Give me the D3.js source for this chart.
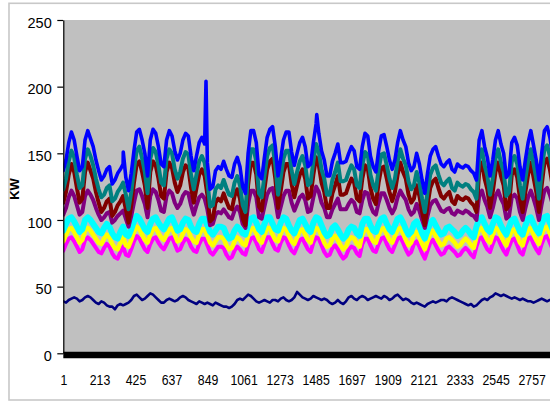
<!DOCTYPE html>
<html><head><meta charset="utf-8">
<script src="https://cdn.jsdelivr.net/npm/d3@7"></script>
<style>body{margin:0;background:#fff;overflow:hidden} text{font-family:"Liberation Sans",Arial,sans-serif}</style>
</head><body>
<svg id="c" width="550" height="401"></svg>
<script>
// x-axis tick labels (reading number) and y ticks (KW)
const xTickLabels = [1,213,425,637,849,1061,1273,1485,1697,1909,2121,2333,2545,2757];
const yTicks = [0,50,100,150,200,250];
const sampleStep = 16; // one plotted reading every 16 intervals, starting at reading 1

const navy = [
39,38,40,41,42,41, 39,40,42,43,42,40, 38,37,39,38,36,35, 35,33,36,37,36,37, 38,40,43,44,42,40,
41,43,45,44,42,40, 38,38,40,41,40,39, 40,42,43,42,40,39, 38,37,39,38,37,38, 37,36,38,37,36,35,
35,34,35,37,40,41, 40,42,44,43,41,39, 38,39,40,39,38,40, 40,39,41,42,40,39, 40,42,46,44,42,41,
40,41,43,42,41,40, 41,40,38,37,38,40, 38,37,39,42,43,41, 40,42,43,42,40,41, 42,43,42,41,43,42,
40,41,43,44,42,40, 41,40,38,37,38,37, 36,35,37,38,39,38, 39,40,40,39,41,42, 41,40,39,38,37,36,
37,35,36,38,40,41, 40,42,43,45,44,43, 44,43,42,41,42,41, 40,41,40,39,39,38, 39,40,41,40,39,40, 40];

const magenta = [
77,82,86,87,84,80, 76,78,85,87,85,82, 79,76,75,79,82,80, 75,72,71,76,80,74, 73,78,84,88,86,82,
78,76,82,86,87,83, 80,78,82,86,87,82, 77,78,83,86,85,80, 77,76,82,86,86,81, 76,74,77,80,80,79,
74,71,72,77,80,78, 75,74,81,86,87,83, 78,76,82,87,87,82, 78,77,83,87,86,81, 77,75,80,85,86,82,
78,76,83,87,86,81, 76,73,74,79,81,78, 74,71,73,78,80,79, 75,73,82,86,86,81, 77,76,82,86,87,82,
78,76,81,86,87,83, 78,74,76,82,84,80, 75,71,77,83,85,81, 77,74,75,79,80,78, 76,73,74,77,79,77,
74,72,80,86,87,82, 78,76,82,87,86,81, 77,74,80,85,86,81, 76,74,81,86,87,82, 78,75,82,87,88,83, 78];

const yellow = [
84,89,93,94,91,87, 83,85,92,94,92,89, 86,83,82,86,89,87, 82,79,78,83,87,81, 80,85,91,95,93,89,
85,83,89,93,94,90, 87,85,89,93,94,89, 84,85,90,93,92,87, 84,83,89,93,93,88, 83,81,84,87,87,86,
81,78,79,84,87,85, 82,81,88,93,94,90, 85,83,89,94,94,89, 85,84,90,94,93,88, 84,82,87,92,93,89,
85,83,90,94,93,88, 83,80,81,86,88,85, 81,78,80,85,87,86, 82,80,89,93,93,88, 84,83,89,93,94,89,
85,83,88,93,94,90, 85,81,83,89,91,87, 82,78,84,90,92,88, 84,81,82,86,87,85, 83,80,81,84,86,84,
81,79,87,93,94,89, 85,83,89,94,93,88, 84,81,87,92,93,88, 83,81,88,93,94,89, 85,82,89,94,95,90, 85];

const cyan = [
92,97,101,102,99,95, 91,93,100,102,100,97, 94,91,90,94,97,95, 90,87,86,91,95,89, 88,93,99,103,101,97,
93,91,97,101,102,98, 95,93,97,101,102,97, 92,93,98,101,100,95, 92,91,97,101,101,96, 91,89,92,95,95,94,
89,86,87,92,95,93, 90,89,96,101,102,98, 93,91,97,102,102,97, 93,92,98,102,101,96, 92,90,95,100,101,97,
93,91,98,102,101,96, 91,88,89,94,96,93, 89,86,88,93,95,94, 90,88,97,101,101,96, 92,91,97,101,102,97,
93,91,96,101,102,98, 93,89,91,97,99,95, 90,86,92,98,100,96, 92,89,90,94,95,93, 91,88,89,92,94,92,
89,87,95,101,102,97, 93,91,97,102,101,96, 92,89,95,100,101,96, 91,89,96,101,102,97, 93,90,97,102,103,98, 93];

const purple = [
104,109,117,122,118,111, 104,106,118,122,119,115, 109,104,100,102,105,106, 98,100,103,105,107,101, 95,103,113,122,123,118,
112,102,118,123,121,115, 107,106,118,122,120,113, 109,112,118,121,120,111, 104,111,117,119,116,108, 96,97,104,106,105,108,
105,102,101,107,110,106, 97,94,112,122,122,117, 102,101,110,119,123,124, 115,102,110,118,122,122, 113,107,112,117,119,115,
106,107,117,125,121,113, 109,102,102,108,112,116, 108,108,108,112,115,113, 106,105,115,121,120,111, 106,104,113,120,120,115,
109,105,109,117,122,118, 115,108,104,106,112,107, 100,94,103,111,114,115, 111,107,106,108,109,105, 104,107,106,105,107,106,
104,103,100,118,122,115, 110,102,109,118,122,116, 112,101,103,117,119,116, 106,100,109,117,122,116, 109,100,112,122,124,119, 112];

const maroon = [
113,121,134,142,136,124, 113,116,136,143,137,131, 121,113,106,109,114,116, 103,106,111,114,118,108, 98,111,128,142,144,136,
126,109,136,144,141,131, 118,116,136,143,139,128, 121,126,136,141,139,124, 113,124,134,138,133,119, 99,101,113,116,114,120,
114,109,108,118,123,116, 101,96,126,143,143,134, 110,107,123,138,144,146, 131,109,122,136,142,142, 127,117,126,134,138,131,
116,118,134,147,141,128, 121,109,109,120,126,133, 119,119,120,126,131,128, 116,114,131,141,139,124, 116,112,128,139,140,131,
121,114,121,134,143,136, 131,119,113,116,126,118, 106,96,111,124,129,131, 124,118,116,119,121,114, 112,118,116,115,117,116,
113,111,106,136,143,131, 123,109,121,136,143,133, 126,108,111,134,138,132, 116,106,121,134,143,132, 121,106,126,143,146,138, 126];

const teal = [
123,131,144,152,147,134, 124,126,146,153,148,141, 131,123,117,119,124,126, 114,116,121,124,128,119, 108,121,138,152,155,146,
136,120,146,154,151,141, 128,126,146,153,150,138, 131,136,146,151,149,134, 123,134,144,148,143,129, 110,111,123,126,124,130,
124,119,118,128,133,126, 111,106,136,153,153,144, 120,117,133,148,154,156, 141,119,132,146,152,152, 137,127,136,144,148,141,
126,128,144,157,151,138, 131,119,119,130,136,143, 129,129,130,136,141,138, 126,124,141,151,149,134, 126,122,138,149,150,141,
131,124,131,144,153,146, 141,129,123,126,136,128, 116,106,121,134,139,141, 134,128,126,129,131,124, 122,128,126,125,127,126,
123,121,116,146,153,141, 133,119,131,146,153,143, 136,118,121,144,148,142, 126,116,131,144,153,142, 131,116,136,153,156,148, 136];

const blue = [
137,145,158,166,160,148, 137,140,160,167,161,155, 145,137,130,133,138,140, 127,130,135,138,142,132, 122,135,152,166,168,160,
150,133,160,168,165,155, 142,140,160,167,163,152, 145,150,160,165,163,148, 137,148,158,162,157,143, 123,125,137,140,138,144,
138,133,132,142,147,140, 125,120,150,167,167,158, 134,131,147,162,168,170, 155,133,146,160,166,166, 151,141,150,158,162,155,
140,142,158,172,165,152, 145,133,133,144,150,157, 143,143,144,150,155,152, 140,138,155,165,163,148, 140,136,152,163,164,155,
145,138,145,158,167,160, 155,143,137,140,150,142, 130,120,135,148,153,155, 148,142,140,143,145,138, 136,142,140,139,141,140,
137,135,130,160,167,155, 147,133,145,160,167,157, 150,132,135,158,162,156, 140,130,145,158,167,156, 145,130,150,167,170,162, 150];
// isolated spikes in the blue series: [reading number, KW]
const blueSpikes = [[354,151],[841,204],[1493,179]];

const seriesList = [
  {name:"navy", values:navy, color:"#000080", width:2.6},
  {name:"magenta", values:magenta, color:"#FF00FF", width:4},
  {name:"yellow", values:yellow, color:"#FFFF00", width:4.5},
  {name:"cyan", values:cyan, color:"#00FFFF", width:6},
  {name:"purple", values:purple, color:"#800080", width:4},
  {name:"maroon", values:maroon, color:"#800000", width:4},
  {name:"teal", values:teal, color:"#008080", width:4},
  {name:"blue", values:blue, color:"#0000FF", width:3.6, extra:blueSpikes}
];

const svg = d3.select("#c");
const x = d3.scaleLinear().domain([1, 2757]).range([63.3, 531.5]);
const y = d3.scaleLinear().domain([0, 250]).range([353.3, 20]);
const plotRight = 560;

// outer chart frame
svg.append("rect").attr("x", 9).attr("y", 3.3).attr("width", 600).attr("height", 396.7)
  .attr("fill", "#fff").attr("stroke", "#c8c8c8").attr("stroke-width", 1.6);

// plot area
svg.append("rect").attr("x", x(1)).attr("y", y(250)).attr("width", plotRight - x(1)).attr("height", y(0) - y(250))
  .attr("fill", "#C0C0C0");

svg.append("clipPath").attr("id", "clip").append("rect")
  .attr("x", x(1)).attr("y", y(250)).attr("width", plotRight - x(1)).attr("height", y(0) - y(250) + 2);

const line = d3.line().x(d => x(d[0])).y(d => y(d[1])).curve(d3.curveLinear);
const g = svg.append("g").attr("clip-path", "url(#clip)");
seriesList.forEach(s => {
  let pts = s.values.map((v, i) => [1 + i * sampleStep, v]);
  if (s.extra) pts = pts.concat(s.extra).sort((a, b) => a[0] - b[0]);
  g.append("path").attr("d", line(pts)).attr("fill", "none")
    .attr("stroke", s.color).attr("stroke-width", s.width)
    .attr("stroke-linejoin", "round").attr("stroke-linecap", "round");
});

// thick black base line along 0
svg.append("line").attr("x1", x(1)).attr("x2", plotRight).attr("y1", y(0) + 1.7).attr("y2", y(0) + 1.7)
  .attr("stroke", "#000").attr("stroke-width", 6.5);

// y axis
const ya = svg.append("g").attr("transform", `translate(${x(1)},0)`)
  .call(d3.axisLeft(y).tickValues(yTicks).tickSize(6).tickSizeOuter(0).tickPadding(5.6));
ya.select(".domain").attr("stroke", "#000").attr("stroke-width", 1.2);
ya.selectAll(".tick line").attr("stroke", "#000").attr("stroke-width", 1.2);
ya.selectAll("text").attr("font-size", "14.5px").attr("fill", "#000").attr("dy", "0.5em")
  .style("font-family", '"Liberation Sans", Arial, sans-serif');

// x axis labels
const xa = svg.append("g").attr("transform", `translate(0,${y(0)})`)
  .call(d3.axisBottom(x).tickValues(xTickLabels).tickSize(0).tickPadding(21).tickFormat(d3.format("d")));
xa.select(".domain").remove();
xa.selectAll(".tick").attr("transform", d => `translate(${x(d) + 0.7},0)`);
xa.selectAll("text").attr("font-size", "15px").attr("fill", "#000")
  .attr("transform", "scale(0.82,1)")
  .style("font-family", '"Liberation Sans", Arial, sans-serif');

// y axis title
svg.append("text").attr("transform", "translate(18.5,189) rotate(-90)")
  .attr("text-anchor", "middle").attr("font-size", "13px").attr("font-weight", "bold")
  .attr("fill", "#000").text("KW");
</script>
</body></html>
